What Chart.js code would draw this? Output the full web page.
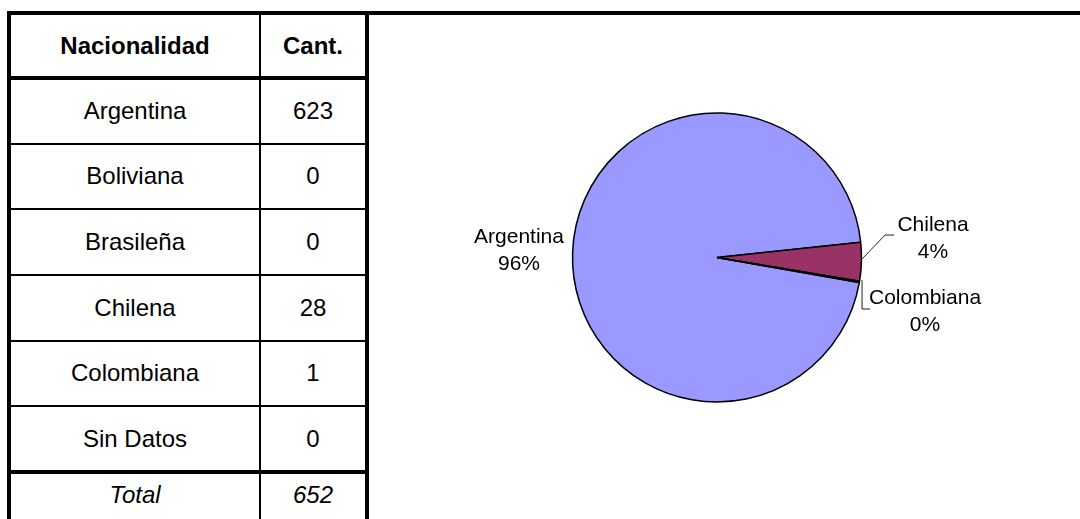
<!DOCTYPE html>
<html>
<head>
<meta charset="utf-8">
<script src="https://cdn.jsdelivr.net/npm/chart.js@4.4.0/dist/chart.umd.min.js"></script>
<style>
html, body { margin: 0; padding: 0; background: #fff; }
body { width: 1080px; height: 519px; position: relative; overflow: hidden;
       font-family: "Liberation Sans", Arial, sans-serif; color: #000; }
.ln { position: absolute; background: #000; }
.cell { position: absolute; display: flex; align-items: center; justify-content: center;
        font-size: 24px; white-space: nowrap; }
#chartBox { position: absolute; left: 400px; top: 20px; width: 680px; height: 490px; }
</style>
</head>
<body>
<div id="tabla"></div>
<div id="chartBox"><canvas id="myChart"></canvas></div>
<script>
// datos
const encabezados = ['Nacionalidad', 'Cant.'];
const categorias = ['Argentina', 'Boliviana', 'Brasileña', 'Chilena', 'Colombiana', 'Sin Datos'];
const cantidades = [623, 0, 0, 28, 1, 0];
const etiquetaTotal = 'Total';
const colores = ['#9999FF', '#CCFFFF', '#660066', '#993366', '#FFFFCC', '#FF8080'];

const total = cantidades.reduce((a, b) => a + b, 0);

// tabla
const tabla = document.getElementById('tabla');
function linea(x, y, w, h) {
    const d = document.createElement('div');
    d.className = 'ln';
    d.style.cssText = `left:${x}px;top:${y}px;width:${w}px;height:${h}px`;
    tabla.appendChild(d);
}
function celda(x, y, w, h, texto, estilo) {
    const d = document.createElement('div');
    d.className = 'cell';
    d.style.cssText = `left:${x}px;top:${y}px;width:${w}px;height:${h}px;` + (estilo || '');
    d.textContent = texto;
    tabla.appendChild(d);
}

const col1 = [11, 248], col2 = [261, 104];
const yLinea0 = 77.8, altoFila = 65.7;

linea(7, 11, 1073, 4);      // linea superior
linea(7, 11, 4, 508);       // borde izquierdo
linea(259, 11, 2, 508);     // division columnas
linea(365, 11, 4, 508);     // borde derecho
for (let k = 0; k <= categorias.length; k++) {
    const yc = yLinea0 + k * altoFila;
    const grueso = (k === 0 || k === categorias.length);
    const h = grueso ? 3.5 : 2;
    linea(7, yc - h / 2, 362, h);
}

celda(col1[0], 15, col1[1], 61, encabezados[0], 'font-weight:bold');
celda(col2[0], 15, col2[1], 61, encabezados[1], 'font-weight:bold');
categorias.forEach((c, i) => {
    const y = yLinea0 + i * altoFila + 1;
    celda(col1[0], y, col1[1], altoFila - 2, c);
    celda(col2[0], y, col2[1], altoFila - 2, String(cantidades[i]));
});
celda(col1[0], 474, col1[1], 42, etiquetaTotal, 'font-style:italic');
celda(col2[0], 474, col2[1], 42, String(total), 'font-style:italic');

// torta (solo valores distintos de cero)
const etiquetas = categorias.filter((c, i) => cantidades[i] > 0);
const valores = cantidades.filter(v => v > 0);
const coloresTorta = colores.filter((c, i) => cantidades[i] > 0);

// posicion de etiquetas relativa al borde de cada porcion
const posEtiquetas = {
    'Argentina': { dx: -53.6, dy: -3 },
    'Chilena': { dx: 71.6, dy: -25.3, guia: [[0.3, -2.5], [23.6, -26.8], [32.6, -26.8]] },
    'Colombiana': { dx: 65.6, dy: 27.6, guia: [[2.6, -1.9], [2.6, 27.1], [10.6, 27.1]] }
};

const etiquetasTorta = {
    id: 'etiquetasTorta',
    afterDatasetsDraw(chart) {
        const ctx = chart.ctx;
        const meta = chart.getDatasetMeta(0);
        ctx.save();
        meta.data.forEach((arc, i) => {
            const p = arc.getProps(['x', 'y', 'startAngle', 'endAngle', 'outerRadius'], true);
            const a = (p.startAngle + p.endAngle) / 2;
            const ex = p.x + Math.cos(a) * p.outerRadius;
            const ey = p.y + Math.sin(a) * p.outerRadius;
            const nombre = chart.data.labels[i];
            const pos = posEtiquetas[nombre];
            if (!pos) return;
            if (pos.guia) {
                ctx.strokeStyle = '#222';
                ctx.lineWidth = 1;
                ctx.beginPath();
                pos.guia.forEach((g, j) => {
                    if (j === 0) ctx.moveTo(ex + g[0], ey + g[1]);
                    else ctx.lineTo(ex + g[0], ey + g[1]);
                });
                ctx.stroke();
            }
            const v = chart.data.datasets[0].data[i];
            const pct = Math.round(v / total * 100) + '%';
            const cx = ex + pos.dx, cy = ey + pos.dy;
            ctx.fillStyle = '#000';
            ctx.font = '21px "Liberation Sans", Arial, sans-serif';
            ctx.textAlign = 'center';
            ctx.textBaseline = 'alphabetic';
            ctx.fillText(nombre, cx, cy - 13.5 + 7.5);
            ctx.fillText(pct, cx, cy + 13.5 + 7.5);
        });
        ctx.restore();
    }
};

const ctx = document.getElementById('myChart').getContext('2d');
const myChart = new Chart(ctx, {
    type: 'pie',
    data: {
        labels: etiquetas,
        datasets: [{
            data: valores,
            backgroundColor: coloresTorta,
            borderColor: '#000',
            borderWidth: 1.5
        }]
    },
    options: {
        responsive: true,
        maintainAspectRatio: false,
        animation: false,
        rotation: 100,
        radius: 144.5,
        layout: { padding: { left: 100, right: 146, top: 50, bottom: 65 } },
        plugins: {
            legend: { display: false },
            tooltip: { enabled: false }
        }
    },
    plugins: [etiquetasTorta]
});
</script>
</body>
</html>
